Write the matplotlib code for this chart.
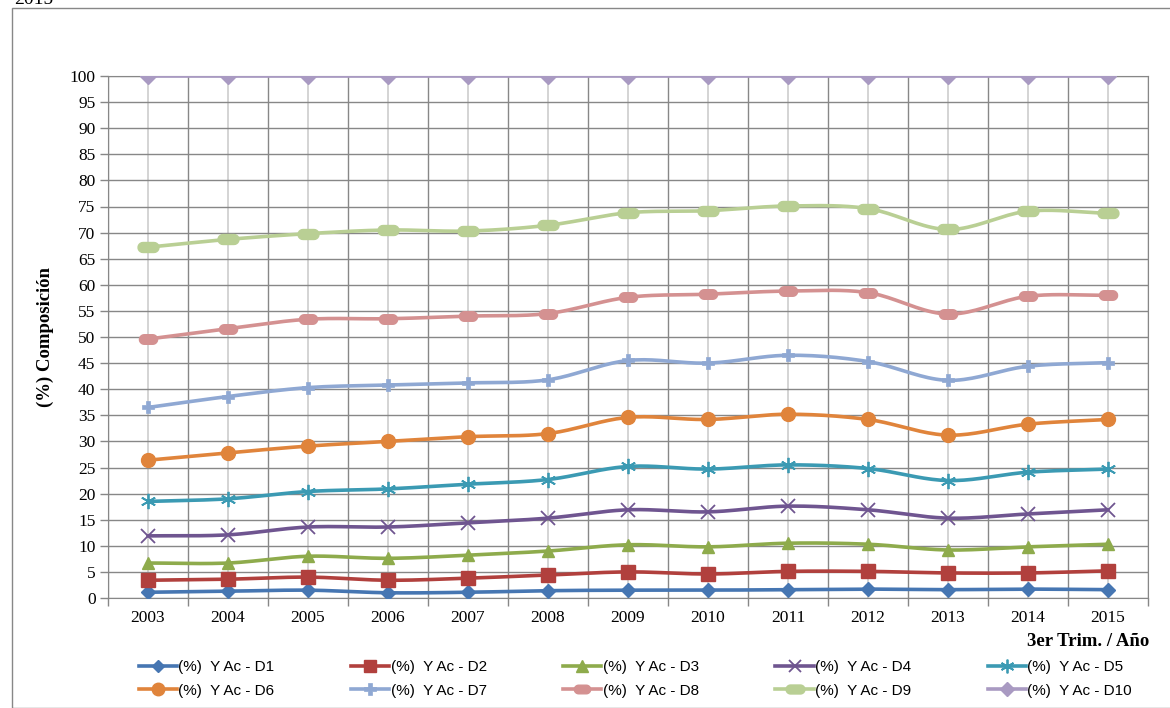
import matplotlib.pyplot as plt
import numpy as np
from matplotlib.path import Path
from matplotlib.patches import Rectangle

years = [2003, 2004, 2005, 2006, 2007, 2008, 2009, 2010, 2011, 2012, 2013, 2014, 2015]

d1 = [1.1, 1.3, 1.5, 1.0, 1.1, 1.4, 1.5, 1.5, 1.6, 1.7, 1.6, 1.7, 1.6]
d2 = [3.4, 3.6, 4.0, 3.4, 3.8, 4.4, 5.0, 4.6, 5.1, 5.1, 4.8, 4.8, 5.2]
d3 = [6.7, 6.7, 8.0, 7.6, 8.2, 9.0, 10.2, 9.8, 10.5, 10.3, 9.2, 9.8, 10.3]
d4 = [11.9, 12.1, 13.6, 13.6, 14.4, 15.3, 16.9, 16.5, 17.6, 16.9, 15.3, 16.1, 16.9]
d5 = [18.5, 19.0, 20.4, 20.9, 21.8, 22.7, 25.2, 24.7, 25.5, 24.8, 22.5, 24.1, 24.7]
d6 = [26.4, 27.8, 29.1, 30.0, 30.9, 31.5, 34.6, 34.2, 35.2, 34.2, 31.2, 33.3, 34.2]
d7 = [36.5, 38.6, 40.3, 40.8, 41.2, 41.8, 45.5, 45.0, 46.5, 45.3, 41.7, 44.4, 45.1]
d8 = [49.6, 51.6, 53.4, 53.5, 54.0, 54.5, 57.6, 58.2, 58.8, 58.5, 54.4, 57.8, 58.0]
d9 = [67.2, 68.7, 69.8, 70.5, 70.3, 71.4, 73.8, 74.2, 75.1, 74.6, 70.6, 74.1, 73.7]
d10 = [100] * 13

labels = ['(%)  Y Ac - D' + str(i) for i in range(1, 11)]
series = [d1, d2, d3, d4, d5, d6, d7, d8, d9, d10]
colors = ['#4676b2', '#b1403d', '#8eab4c', '#6f5590', '#3b9ab3',
          '#e0843b', '#8fa8d3', '#d49191', '#b9cf94', '#a99ac2']


def pill(w):
    # rounded bar marker (Excel style)
    t = np.linspace(-np.pi / 2, np.pi / 2, 12)
    right = np.column_stack([w + np.cos(t), np.sin(t)])
    left = np.column_stack([-w - np.cos(t), -np.sin(t)])
    v = np.vstack([right, left, right[:1]])
    return Path(v, closed=True)


markers = ['D', 's', '^', 'x', (6, 2, 0), 'o', 'P', pill(0.9), pill(1.1), 'D']
msizes = [7, 10, 9, 10, 11, 10, 9, 13, 15, 8]
mews = [1, 1, 1, 1.3, 1.3, 1, 0.5, 1, 1, 1]


def smooth(x, y, n=20):
    # catmull-rom curve through the points
    x = np.asarray(x, float)
    y = np.asarray(y, float)
    px = np.concatenate([[2 * x[0] - x[1]], x, [2 * x[-1] - x[-2]]])
    py = np.concatenate([[2 * y[0] - y[1]], y, [2 * y[-1] - y[-2]]])
    xs, ys = [], []
    t = np.linspace(0, 1, n, endpoint=False)
    for i in range(1, len(px) - 2):
        for p, out in ((px, xs), (py, ys)):
            p0, p1, p2, p3 = p[i - 1], p[i], p[i + 1], p[i + 2]
            out.extend(0.5 * (2 * p1 + (-p0 + p2) * t + (2 * p0 - 5 * p1 + 4 * p2 - p3) * t ** 2
                              + (-p0 + 3 * p1 - 3 * p2 + p3) * t ** 3))
    xs.append(x[-1])
    ys.append(y[-1])
    return xs, ys


fig = plt.figure(figsize=(11.7, 7.08), dpi=100)
ax = fig.add_axes([108 / 1170, 1 - 598 / 708, (1148 - 108) / 1170, (598 - 76) / 708])

serif = 'Liberation Serif'
sans = 'Liberation Sans'

ax.set_xlim(2002.5, 2015.5)
ax.set_ylim(0, 100)
ax.set_yticks(range(0, 101, 5))
ax.set_xticks(years)
ax.set_xticks(np.arange(2002.5, 2016, 1), minor=True)
ax.grid(axis='y', color='#878787', lw=1)
ax.grid(axis='x', which='minor', color='#878787', lw=1)
ax.grid(axis='x', which='major', color='#cdcdcd', lw=1.2)
ax.set_axisbelow(True)
ax.tick_params(axis='x', which='major', length=0, pad=9, labelsize=12.5)
ax.tick_params(axis='x', which='minor', length=6, color='#878787', width=1)
ax.tick_params(axis='y', length=6, color='#878787', width=1, labelsize=12.5, pad=3)
for lab in ax.get_xticklabels() + ax.get_yticklabels():
    lab.set_fontfamily(serif)
for s in ax.spines.values():
    s.set_color('#878787')

handles = []
for i, (vals, c) in enumerate(zip(series, colors)):
    sx, sy = smooth(years, vals)
    ax.plot(sx, sy, color=c, lw=2.6, solid_capstyle='round', zorder=3)
    ax.plot(years, vals, ls='none', marker=markers[i], ms=msizes[i], color=c,
            mec=c, mew=mews[i], zorder=4)
    h, = ax.plot([], [], color=c, lw=2.6, marker=markers[i], ms=msizes[i] * 0.9,
                 mec=c, mew=mews[i])
    handles.append(h)

ax.set_ylabel('(%) Composición', fontfamily=serif, fontweight='bold', fontsize=13.5, labelpad=11)
fig.text(1149 / 1170, 1 - 641 / 708, '3er Trim. / Año', ha='right', va='center',
         fontfamily=serif, fontweight='bold', fontsize=13.5)

order = [0, 5, 1, 6, 2, 7, 3, 8, 4, 9]
fig.legend([handles[k] for k in order], [labels[k] for k in order], ncol=5,
           loc='center left', bbox_to_anchor=(125 / 1170, 1 - 679 / 708),
           frameon=False, prop={'family': sans, 'size': 11}, handlelength=2.5,
           handletextpad=0.1, columnspacing=5.0, labelspacing=0.62)

fig.text(14 / 1170, 1.0, '2015', fontfamily=serif, fontsize=14, va='center', ha='left')
fig.patches.append(Rectangle((12 / 1170, 0), 1.2, 1 - 8 / 708, transform=fig.transFigure,
                             fill=False, ec='#878787', lw=1))

fig.savefig('out.png', dpi=100)
